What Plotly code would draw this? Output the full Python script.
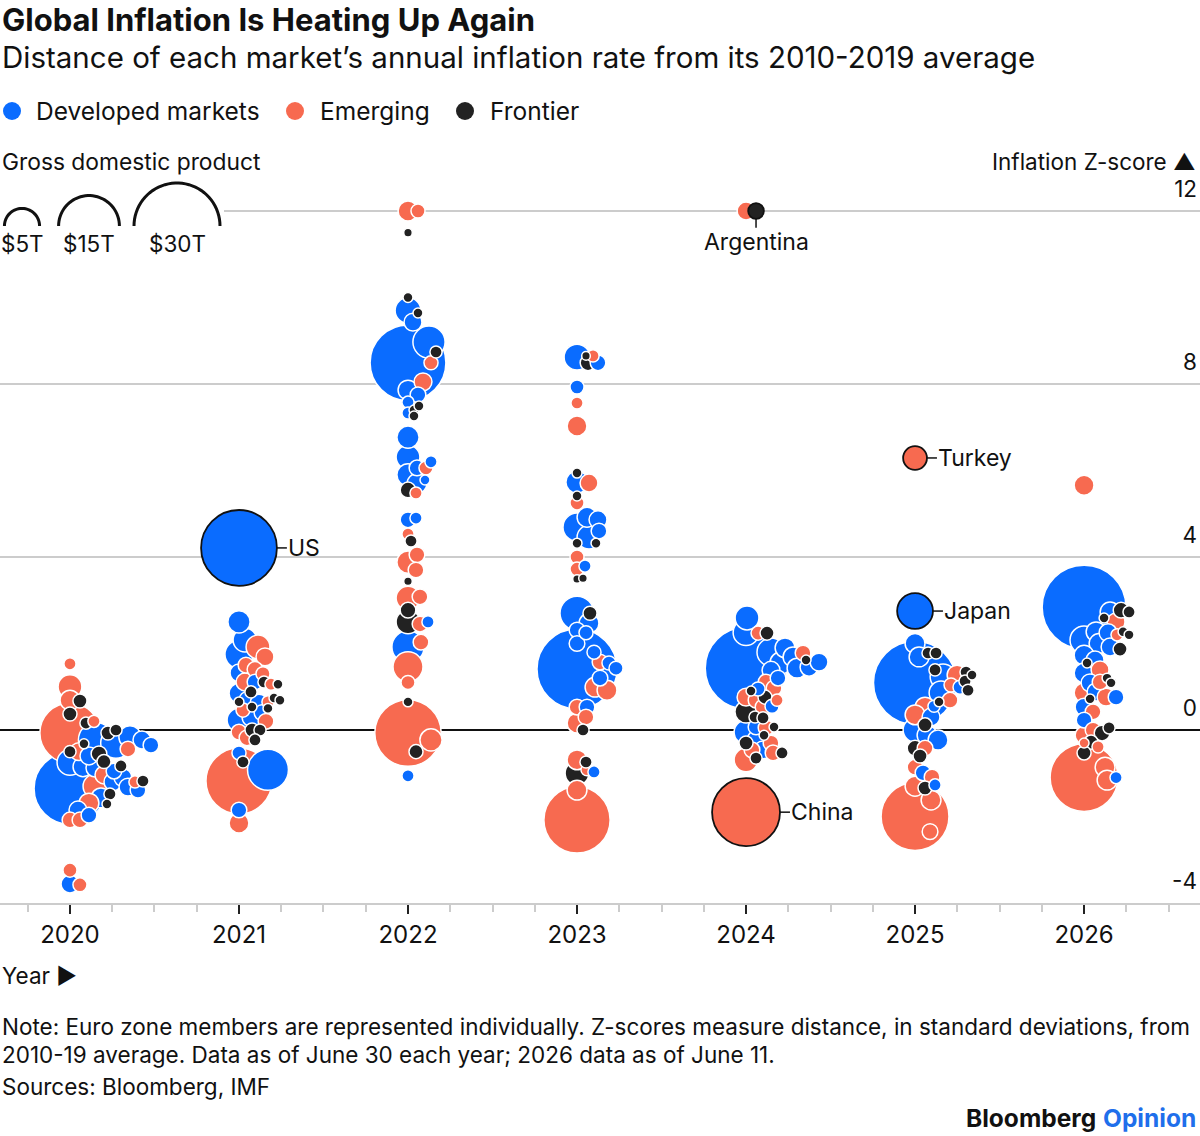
import numpy as np
import plotly.graph_objects as go

# ---------------- DATA ----------------
YEARS = [2020, 2021, 2022, 2023, 2024, 2025, 2026]
GROUP_NAMES = {"D": "Developed markets", "E": "Emerging", "F": "Frontier"}

# Inflation z-score, GDP (US$ trillions), market group -- per year
Z_2020 = [1.53, 1.0, 0.69, 0.67, 0.37, 0.16, 0.2, -0.07, 0.0, -0.07, -0.23, -0.32, -0.5, -0.44, -0.55, -0.5,
          -0.73, -0.85, -0.83, -0.88, -1.04, -1.35, -1.3, -1.2, -1.1, -1.2, -1.18, -1.48, -1.57, -1.69, -1.85,
          -2.08, -2.08, -1.97, -1.71, -1.32, -1.39, -3.24, -3.58, -3.56, -0.16, -0.23, -0.35, -0.6, -0.95,
          -0.3, -0.75]
G_2020 = [0.6, 2.3, 1.6, 0.8, 0.8, 0.6, 0.6, 14.7, 0.6, 0.8, 5.0, 0.4, 1.3, 1.0, 1.0, 0.6,
          0.8, 1.6, 0.6, 1.3, 1.3, 20.9, 2.3, 1.3, 1.3, 0.6, 0.6, 0.6, 1.6, 1.6, 1.3,
          1.0, 1.0, 1.0, 0.4, 1.3, 1.0, 0.8, 0.8, 1.3, 2.0, 1.3, 1.0, 1.3, 1.0,
          3.8, 2.7]
C_2020 = list("EEEFFFEEFFDFEEFFFDFDEDEDDEFFDEDEEDFDDEEDDDDDDDD")

Z_2021 = [2.5, 2.08, 1.92, 1.69, 1.5, 1.32, 1.4, 1.11, 1.11, 1.11, 1.06, 1.06, 0.88, 0.65, 0.74, 0.69,
          0.65, 0.69, 0.46, 0.53, 0.5, 0.23, 0.62, 0.3, 0.4, 0.0, -0.05, 0.0, -0.23, -0.18, -0.53, -0.74,
          -1.18, -0.92, -1.85, -2.15, 0.85, 1.3, 0.2, 1.75]
G_2021 = [2.0, 2.3, 2.3, 1.3, 1.0, 1.3, 1.0, 1.0, 1.3, 0.6, 0.4, 0.6, 0.6, 0.4, 0.4, 0.4,
          0.6, 1.3, 0.8, 0.4, 0.4, 2.3, 1.3, 1.6, 1.0, 0.8, 1.0, 0.6, 0.6, 1.0, 0.8, 0.6,
          17.7, 6.8, 1.0, 1.6, 1.6, 0.8, 1.0, 3.2]
C_2021 = list("DDEEEDEDEFFEFFFFEDEFFDDDDFEFFEDFEDDEDEED")

Z_2022 = [12.0, 12.0, 11.5, 10.0, 9.7, 9.64, 9.43, 8.49, 8.97, 8.74, 8.49, 8.05, 7.86, 7.75, 7.58, 7.4,
          7.33, 7.49, 7.26, 6.77, 6.31, 5.9, 6.06, 6.06, 5.78, 5.7, 5.55, 5.48, 6.2, 4.86, 4.9, 4.53,
          4.37, 3.88, 4.05, 3.7, 3.44, 3.08, 3.05, 2.77, 2.5, 2.45, 2.5, 1.92, 2.03, 1.46, 1.1, 0.65,
          -0.07, -0.23, -0.5, -1.06]
G_2022 = [1.6, 0.8, 0.3, 0.4, 2.7, 0.4, 1.3, 23.3, 4.2, 0.6, 0.8, 1.3, 1.6, 1.0, 0.6, 0.4,
          0.6, 0.4, 0.4, 2.0, 2.3, 2.0, 1.0, 0.8, 0.4, 1.6, 1.0, 0.6, 0.6, 1.0, 0.6, 0.6,
          0.6, 2.0, 1.0, 1.0, 0.3, 1.0, 2.3, 1.0, 2.3, 1.0, 0.6, 4.2, 1.0, 3.65, 0.8, 0.4,
          17.9, 2.0, 0.8, 0.6]
C_2022 = list("EEFFDFDDDFEEDDDFDFFDDDDEDDFEDDDEFEEEFEEFFEDDEEEFEEFD")

Z_2023 = [8.62, 8.49, 8.49, 8.65, 8.65, 7.93, 7.56, 7.03, 5.94, 5.71, 5.73, 5.41, 5.25, 4.92, 4.86, 4.69,
          4.46, 4.6, 4.32, 4.32, 4.0, 3.79, 3.72, 3.49, 3.51, 2.7, 2.7, 2.47, 2.31, 2.25, 1.41, 1.8,
          1.55, 1.57, 1.43, 0.99, 0.92, 0.53, 0.53, 0.3, 0.16, 0.0, -1.0, -0.69, -0.92, -0.74, -0.97,
          -1.39, -2.08, 2.0, 1.2]
G_2023 = [2.7, 1.0, 1.0, 0.3, 0.6, 0.8, 0.6, 1.6, 0.4, 1.3, 2.0, 0.4, 0.8, 1.6, 1.3, 3.2,
          2.3, 1.0, 0.4, 0.4, 0.8, 0.6, 0.8, 0.3, 0.3, 4.7, 0.8, 1.6, 1.0, 0.8, 26.0, 0.8,
          0.8, 1.0, 0.8, 1.6, 1.6, 1.0, 1.0, 1.0, 1.6, 0.6, 2.3, 1.6, 0.6, 0.6, 0.6,
          1.6, 17.8, 1.0, 1.0]
C_2023 = list("DFDFEDEEFEDFEDDDDDFFEDEFFDFDDDDDDEDEEEDEEFFEEFDEEDD")

Z_2024 = [12.0, 2.59, 2.25, 1.43, 2.24, 2.24, 1.8, 1.9, 1.69, 1.55, 1.45, 1.62, 1.43, 1.57, 1.38, 1.78,
          1.11, 0.97, 0.9, 0.76, 0.69, 0.76, 0.55, 0.42, 0.53, 0.69, 0.3, 0.28, 0.07, -0.05, 0.07, 0.05,
          -0.12, -0.23, -0.3, -0.3, -0.46, -0.46, -0.65, -0.53, -0.69, -0.53, 1.2, 0.95]
G_2024 = [1.3, 2.3, 2.7, 27.0, 0.8, 0.8, 3.2, 1.6, 1.6, 2.0, 1.3, 0.4, 1.6, 1.3, 1.3, 1.0,
          1.0, 1.0, 0.4, 1.3, 1.0, 0.8, 0.8, 2.0, 1.0, 0.6, 0.6, 0.6, 0.4, 2.3, 1.0, 1.0,
          0.4, 1.6, 1.0, 0.8, 1.3, 1.0, 0.6, 0.6, 2.3, 1.0, 1.0, 0.8]
C_2024 = list("EDDDEFDDDDDFDDDEEEFEEFDFEEFFFDDEFDEFDEFFEEDD")

Z_2025 = [1.09, 2.0, 1.69, 1.78, 1.78, 1.34, 1.39, 1.27, 1.13, 0.92, 1.27, 1.04, 0.99, 1.23, 0.86, 0.69,
          0.65, 0.55, 0.53, 0.35, 0.0, 0.12, -0.12, -0.23, -0.42, -0.42, -2.0, -1.62, -0.86, -0.99, -1.09,
          -1.27, -1.34, -1.3, -2.35, 0.3, -0.6]
G_2025 = [28.0, 1.6, 1.6, 0.6, 0.6, 0.6, 0.6, 0.4, 0.6, 0.6, 1.6, 0.8, 0.8, 2.7, 2.3, 1.0,
          0.4, 0.6, 1.6, 1.6, 2.3, 0.8, 1.6, 1.6, 1.0, 1.0, 18.7, 1.6, 1.0, 1.0, 1.0,
          0.6, 0.8, 1.6, 1.0, 1.3, 0.8]
C_2025 = list("DDDFFFFFFFEEDDDEFDEEDFDDFEEEEDEDFEEDF")

Z_2026 = [5.66, 2.84, 2.73, 2.77, 2.73, 2.59, 2.5, 2.27, 2.27, 2.25, 2.2, 2.2, 2.08, 2.0, 1.73, 1.87,
          1.92, 1.62, 1.55, 1.39, 1.32, 1.09, 1.2, 1.09, 1.11, 0.86, 0.88, 0.72, 0.76, 0.76, 0.42, 0.53,
          0.23, 0.0, -0.07, 0.05, -0.12, -0.28, -0.3, -0.39, -0.53, -1.1, -0.86, -1.16, -1.1]
G_2026 = [1.6, 28.5, 1.6, 1.0, 0.6, 0.4, 1.3, 1.6, 0.4, 1.3, 0.6, 0.4, 3.2, 1.6, 1.6, 0.8,
          1.3, 1.3, 0.4, 1.3, 1.6, 1.3, 0.4, 0.4, 1.0, 1.6, 1.3, 0.4, 1.3, 1.0, 1.0, 1.3,
          1.0, 1.0, 1.0, 0.6, 1.3, 0.8, 0.4, 0.6, 0.8, 18.7, 1.6, 1.6, 0.6]
C_2026 = list("EDDFFFEDFDEFDDDFDDFEDDFFEEDFEDEDDEFFEFEEFEEED")

# Labelled markets
HL_LABEL = ["US", "Argentina", "China", "Japan", "Turkey"]
HL_YEAR = [2021, 2024, 2024, 2025, 2025]
HL_Z = [4.21, 12.0, -1.9, 2.75, 6.29]
HL_GDP = [23.3, 1.0, 18.7, 5.2, 2.3]
HL_GROUP = ["D", "F", "E", "D", "E"]

Y_TICKS = [-4, 0, 4, 8, 12]
LEGEND_GDP = [5, 15, 30]
LEGEND_GDP_TEXT = ["$5T", "$15T", "$30T"]

# ---------------- STYLE / GEOMETRY ----------------
W, H = 1200, 1136
M_T, M_B = 168, 233
PLOT_H = H - M_T - M_B
PXZ = 43.25                                   # pixels per z unit
X_RANGE = [2019.586, 2026.686]
Y_RANGE = [-4, -4 + PLOT_H / PXZ]
PXY = W / (X_RANGE[1] - X_RANGE[0])          # pixels per year
R_MAX, G_MAX = 43.0, 30.0
COLORS = {"D": "#0A6CFF", "E": "#F76A50", "F": "#222222"}
FONT = "Inter, Liberation Sans, Arial, sans-serif"
TXT = "#111111"


def radius(g):
    return R_MAX * np.sqrt(np.asarray(g, dtype=float) / G_MAX)


def swarm(zs, rs, a=0.75, b=0.45):
    """Greedy one-sided swarm: big circles first; smaller ones pushed right until
    the (deliberately loose) overlap rule is satisfied."""
    zs = np.minimum(np.asarray(zs, float), 12.0)
    order = np.argsort(-np.asarray(rs), kind="stable")
    off = np.zeros(len(zs))
    placed = []
    for i in order:
        y = zs[i] * PXZ
        o = 0.0
        while True:
            clash = False
            for j in placed:
                dy = y - zs[j] * PXZ
                need = a * min(rs[i], rs[j]) + b * max(rs[i], rs[j])
                if abs(dy) < need:
                    dx = o - off[j]
                    if dx * dx + dy * dy < need * need:
                        clash = True
                        break
            if not clash:
                break
            o += 1.0
        off[i] = o
        placed.append(i)
    return off


data_by_year = {
    2020: (Z_2020, G_2020, C_2020), 2021: (Z_2021, G_2021, C_2021), 2022: (Z_2022, G_2022, C_2022),
    2023: (Z_2023, G_2023, C_2023), 2024: (Z_2024, G_2024, C_2024), 2025: (Z_2025, G_2025, C_2025),
    2026: (Z_2026, G_2026, C_2026),
}

all_x, all_y, all_r, all_c = [], [], [], []
hl_pos = {}
for yr in YEARS:
    zs, gs, cs = data_by_year[yr]
    assert len(zs) == len(gs) == len(cs), yr
    zs = list(zs); gs = list(gs); cs = list(cs)
    hl_idx = []
    for n, (lab, hy) in enumerate(zip(HL_LABEL, HL_YEAR)):
        if hy == yr:
            hl_idx.append((n, len(zs)))
            zs.append(HL_Z[n]); gs.append(HL_GDP[n]); cs.append(HL_GROUP[n])
    rs = radius(gs)
    off = swarm(zs, rs)
    hl_set = {idx for _, idx in hl_idx}
    for n, idx in hl_idx:
        hl_pos[n] = (yr + off[idx] / PXY, min(zs[idx], 12.0), rs[idx])
    for i in range(len(zs)):
        if i in hl_set:
            continue
        all_x.append(yr + off[i] / PXY)
        all_y.append(min(zs[i], 12.0))
        all_r.append(rs[i])
        all_c.append(COLORS[cs[i]])

order = np.argsort(-np.array(all_r), kind="stable")
fig = go.Figure()
fig.add_trace(go.Scatter(
    x=[all_x[i] for i in order], y=[all_y[i] for i in order], mode="markers",
    marker=dict(size=[2 * all_r[i] for i in order], sizemode="diameter",
                color=[all_c[i] for i in order], line=dict(color="white", width=1.5), opacity=1),
    hoverinfo="skip", showlegend=False, cliponaxis=False))

hx = [hl_pos[n][0] for n in range(len(HL_LABEL))]
hy = [hl_pos[n][1] for n in range(len(HL_LABEL))]
hr = [hl_pos[n][2] for n in range(len(HL_LABEL))]
fig.add_trace(go.Scatter(
    x=hx, y=hy, mode="markers",
    marker=dict(size=[2 * r for r in hr], sizemode="diameter", opacity=1,
                color=[COLORS[g] for g in HL_GROUP], line=dict(color="#111111", width=1.8)),
    hoverinfo="skip", showlegend=False, cliponaxis=False))

shapes, annotations = [], []


def ppx(x):
    return x / W


def ppy(y):
    return (H - M_B - y) / PLOT_H


def ann(text, x, y, size, xanchor="left", color=TXT, yanchor="middle"):
    annotations.append(dict(text=text, x=ppx(x), y=ppy(y), xref="paper", yref="paper",
                            xanchor=xanchor, yanchor=yanchor, showarrow=False,
                            font=dict(family=FONT, size=size, color=color)))


# labels for highlighted markets
for n, lab in enumerate(HL_LABEL):
    x, y, r = hl_pos[n]
    if lab == "Argentina":
        y0 = y - r / PXZ
        y1 = y0 - 9 / PXZ
        shapes.append(dict(type="line", xref="x", yref="y", x0=x, x1=x, y0=y0, y1=y1,
                           line=dict(color="#111", width=1.5)))
        annotations.append(dict(text=lab, x=x, y=y1, xref="x", yref="y", xanchor="center",
                                yanchor="top", showarrow=False, yshift=2,
                                font=dict(family=FONT, size=23, color=TXT)))
    else:
        x0 = x + r / PXY
        x1 = x0 + 10 / PXY
        shapes.append(dict(type="line", xref="x", yref="y", x0=x0, x1=x1, y0=y, y1=y,
                           line=dict(color="#111", width=1.5)))
        annotations.append(dict(text=lab, x=x1, y=y, xref="x", yref="y", xanchor="left",
                                yanchor="middle", showarrow=False, xshift=-1,
                                font=dict(family=FONT, size=23, color=TXT)))

# header texts
ann("<b>Global Inflation Is Heating Up Again</b>", 0, 20, 31)
ann("Distance of each market\u2019s annual inflation rate from its 2010-2019 average", 0, 57, 29.5)

# colour legend
for cx, g, tx in [(12, "D", 34), (295, "E", 318), (465, "F", 488)]:
    shapes.append(dict(type="circle", xref="paper", yref="paper", x0=ppx(cx - 9), x1=ppx(cx + 9),
                       y0=ppy(111 + 9), y1=ppy(111 - 9), fillcolor=COLORS[g], line=dict(width=0)))
    ann(GROUP_NAMES[g], tx, 111, 24.5)

# size legend
ann("Gross domestic product", 0, 161, 22.8)
shapes.append(dict(type="rect", xref="paper", yref="paper", x0=0, x1=ppx(224), y0=ppy(214), y1=ppy(208),
                   fillcolor="white", line=dict(width=0), layer="above"))
for g, cx, lab in zip(LEGEND_GDP, [22, 89, 177], LEGEND_GDP_TEXT):
    r = float(radius(g))
    base = 226
    t = np.linspace(np.pi, 0, 40)
    pts = [(ppx(cx + r * np.cos(a)), ppy(base - r * np.sin(a))) for a in t]
    path = "M " + " L ".join(f"{px:.5f},{py:.5f}" for px, py in pts)
    shapes.append(dict(type="path", xref="paper", yref="paper", path=path,
                       line=dict(color="#111", width=3), layer="above"))
    ann(lab, cx, 243, 22.5, xanchor="center")

ann("Inflation Z-score \u25B2", 1198, 161, 22.5, xanchor="right")
ann("Year \u25B6", 0, 975, 22.5)
ann("Note: Euro zone members are represented individually. Z-scores measure distance, in standard deviations, from",
    0, 1026, 22.5)
ann("2010-19 average. Data as of June 30 each year; 2026 data as of June 11.", 0, 1054, 22.5)
ann("Sources: Bloomberg, IMF", 0, 1086, 22.5)
ann("<b>Bloomberg</b> <b><span style='color:#1F6FEB'>Opinion</span></b>", 1198, 1118, 24.5, xanchor="right")

fig.update_layout(
    width=W, height=H, margin=dict(l=0, r=0, t=M_T, b=M_B, pad=0),
    paper_bgcolor="white", plot_bgcolor="white", showlegend=False,
    font=dict(family=FONT, color=TXT),
    shapes=shapes, annotations=annotations,
    xaxis=dict(range=X_RANGE, tickvals=YEARS, ticktext=[str(y) for y in YEARS],
               ticks="outside", ticklen=9, tickwidth=2, tickcolor="#222",
               showline=True, linecolor="#cccccc", linewidth=2, showgrid=False, zeroline=False,
               tickfont=dict(family=FONT, size=24, color=TXT), automargin=False, fixedrange=True,
               minor=dict(dtick=0.25, tick0=2020, ticks="outside", ticklen=7, tickwidth=1.5,
                          tickcolor="#cccccc", showgrid=False)),
    yaxis=dict(range=Y_RANGE, side="right", tickvals=Y_TICKS, ticktext=[str(v) for v in Y_TICKS],
               ticks="", ticklabelposition="inside top", ticklabelshift=-6, showgrid=True,
               gridcolor="#cccccc", gridwidth=1.5,
               zeroline=True, zerolinecolor="#111111", zerolinewidth=1.5, showline=False,
               tickfont=dict(family=FONT, size=22.5, color=TXT), automargin=False, fixedrange=True),
)

fig.write_html("out.html", config={"displayModeBar": False},
               post_script="document.body.style.margin='0px';document.body.style.padding='0px';")
